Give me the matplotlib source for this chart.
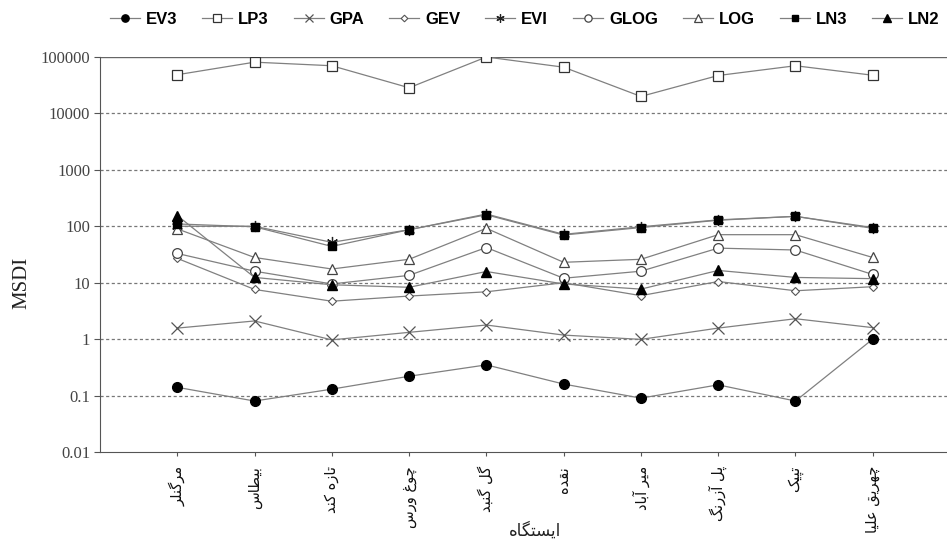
import numpy as np
import matplotlib
matplotlib.use('Agg')
import matplotlib.pyplot as plt

# stations (persian), x axis
stations = ['مرگنلر', 'بیطاس', 'تازه کند', 'چوغ ورس', 'گل گنبد',
            'نقده', 'میر آباد', 'پل آزرنگ', 'تپیک', 'چهریق علیا']
x_label = 'ایستگاه'
y_label = 'MSDI'

# MSDI values (log scale)
EV3 = [0.14, 0.08, 0.13, 0.22, 0.35, 0.16, 0.09, 0.155, 0.08, 1.0]
LP3 = [48500, 81000, 70000, 28500, 100000, 66000, 20000, 47000, 70000, 47500]
GPA = [1.57, 2.1, 0.97, 1.32, 1.78, 1.18, 0.99, 1.57, 2.3, 1.6]
GEV = [27, 7.6, 4.7, 5.8, 6.9, 10, 5.9, 10.5, 7.2, 8.5]
EVI = [100, 100, 52, 87, 165, 72, 98, 130, 150, 95]
GLOG = [33, 16, 9.5, 13.5, 42, 12, 16, 41, 38, 14]
LOG = [90, 28, 17.5, 26, 92, 23, 26, 71, 71, 28]
LN3 = [110, 98, 44, 87, 160, 70, 95, 128, 150, 92]
LN2 = [155, 12.4, 9.2, 8.3, 15.8, 9.5, 7.7, 16.5, 12.4, 11.8]

y_ticks = [0.01, 0.1, 1, 10, 100, 1000, 10000, 100000]
y_ticklabels = ['0.01', '0.1', '1', '10', '100', '1000', '10000', '100000']

# matplotlib has no arabic shaping -> pick presentation forms by hand
# (isolated, final, initial, medial)
FORMS = {
    'ا': (0xFE8D, 0xFE8E, None, None), 'آ': (0xFE81, 0xFE82, None, None),
    'ب': (0xFE8F, 0xFE90, 0xFE91, 0xFE92), 'پ': (0xFB56, 0xFB57, 0xFB58, 0xFB59),
    'ت': (0xFE95, 0xFE96, 0xFE97, 0xFE98), 'ث': (0xFE99, 0xFE9A, 0xFE9B, 0xFE9C),
    'ج': (0xFE9D, 0xFE9E, 0xFE9F, 0xFEA0), 'چ': (0xFB7A, 0xFB7B, 0xFB7C, 0xFB7D),
    'ح': (0xFEA1, 0xFEA2, 0xFEA3, 0xFEA4), 'خ': (0xFEA5, 0xFEA6, 0xFEA7, 0xFEA8),
    'د': (0xFEA9, 0xFEAA, None, None), 'ذ': (0xFEAB, 0xFEAC, None, None),
    'ر': (0xFEAD, 0xFEAE, None, None), 'ز': (0xFEAF, 0xFEB0, None, None),
    'ژ': (0xFB8A, 0xFB8B, None, None), 'و': (0xFEED, 0xFEEE, None, None),
    'س': (0xFEB1, 0xFEB2, 0xFEB3, 0xFEB4), 'ش': (0xFEB5, 0xFEB6, 0xFEB7, 0xFEB8),
    'ص': (0xFEB9, 0xFEBA, 0xFEBB, 0xFEBC), 'ض': (0xFEBD, 0xFEBE, 0xFEBF, 0xFEC0),
    'ط': (0xFEC1, 0xFEC2, 0xFEC3, 0xFEC4), 'ظ': (0xFEC5, 0xFEC6, 0xFEC7, 0xFEC8),
    'ع': (0xFEC9, 0xFECA, 0xFECB, 0xFECC), 'غ': (0xFECD, 0xFECE, 0xFECF, 0xFED0),
    'ف': (0xFED1, 0xFED2, 0xFED3, 0xFED4), 'ق': (0xFED5, 0xFED6, 0xFED7, 0xFED8),
    'ک': (0xFB8E, 0xFB8F, 0xFB90, 0xFB91), 'گ': (0xFB92, 0xFB93, 0xFB94, 0xFB95),
    'ل': (0xFEDD, 0xFEDE, 0xFEDF, 0xFEE0), 'م': (0xFEE1, 0xFEE2, 0xFEE3, 0xFEE4),
    'ن': (0xFEE5, 0xFEE6, 0xFEE7, 0xFEE8), 'ه': (0xFEE9, 0xFEEA, 0xFEEB, 0xFEEC),
    'ی': (0xFBFC, 0xFBFD, 0xFBFE, 0xFBFF),
}


def shape(s):
    out = []
    for i, ch in enumerate(s):
        if ch not in FORMS:
            out.append(ch)
            continue
        iso, fin, ini, med = FORMS[ch]
        prev = s[i-1] if i > 0 else ''
        nxt = s[i+1] if i+1 < len(s) else ''
        jp = prev in FORMS and FORMS[prev][2] is not None
        jn = nxt in FORMS and ini is not None
        if jp and jn:
            c = med
        elif jp:
            c = fin
        elif jn:
            c = ini
        else:
            c = iso
        out.append(chr(c))
    return ''.join(out)[::-1]


line_c = '#808080'
series = [
    ('EV3', EV3, dict(marker='o', ms=7, mfc='black', mec='black')),
    ('LP3', LP3, dict(marker='s', ms=7, mfc='white', mec='#333333', mew=0.9)),
    ('GPA', GPA, dict(marker='x', ms=8, mec='#555555', mew=0.9)),
    ('GEV', GEV, dict(marker='D', ms=4.5, mfc='white', mec='#555555', mew=0.8)),
    ('EVI', EVI, dict(marker=(6, 2, 0), ms=8, mec='#222222', mew=0.9)),
    ('GLOG', GLOG, dict(marker='o', ms=7, mfc='white', mec='#444444', mew=0.9)),
    ('LOG', LOG, dict(marker='^', ms=7, mfc='white', mec='#444444', mew=0.9)),
    ('LN3', LN3, dict(marker='s', ms=5.5, mfc='black', mec='black')),
    ('LN2', LN2, dict(marker='^', ms=7, mfc='black', mec='black')),
]

fig = plt.figure(figsize=(9.47, 5.42), dpi=100)
ax = fig.add_axes([100/947, 1-452/542, 850/947, 395/542])

x = np.arange(1, len(stations)+1)
handles = []
for name, vals, st in series:
    ln, = ax.plot(x, vals, color=line_c, lw=0.9, label=name, **st)
    handles.append(ln)

ax.set_yscale('log')
ax.set_ylim(0.01, 100000)
ax.set_xlim(0, 11)
ax.set_yticks(y_ticks)
ax.set_yticklabels(y_ticklabels, family='Liberation Serif', fontsize=12, color='#444444')
ax.yaxis.set_minor_locator(matplotlib.ticker.NullLocator())
ax.set_xticks(x)
ax.set_xticklabels([shape(s) for s in stations], rotation=90, fontsize=10.5,
                   family='DejaVu Sans', color='#111111')
ax.tick_params(axis='y', length=4, width=0.8, color='#555555', pad=3)
ax.tick_params(axis='x', length=3, width=0.8, color='#555555', pad=7)

for v in y_ticks[1:-1]:
    ax.axhline(v, color='#777777', lw=0.9, ls=(0, (2.5, 2)), zorder=0)
ax.axhline(100000, color='#666666', lw=1.0, zorder=0)

for s in ['top', 'right']:
    ax.spines[s].set_visible(False)
ax.spines['left'].set_color('#555555')
ax.spines['bottom'].set_color('#555555')

fig.text(22/947, 1-283/542, y_label, rotation=90, ha='center', va='center',
         family='Liberation Serif', fontsize=15, color='#222222')
fig.text(535/947, 2/542, shape(x_label), ha='center', va='bottom',
         family='DejaVu Sans', fontsize=12, color='#222222')

leg = fig.legend(handles=handles, loc='upper left', bbox_to_anchor=(95/947, 1.005),
                 ncol=9, frameon=False, handlelength=1.8, handletextpad=0.35,
                 columnspacing=1.5, markerscale=0.75,
                 prop=dict(family='Liberation Sans', weight='bold', size=12))

fig.savefig('out.png', dpi=100)
